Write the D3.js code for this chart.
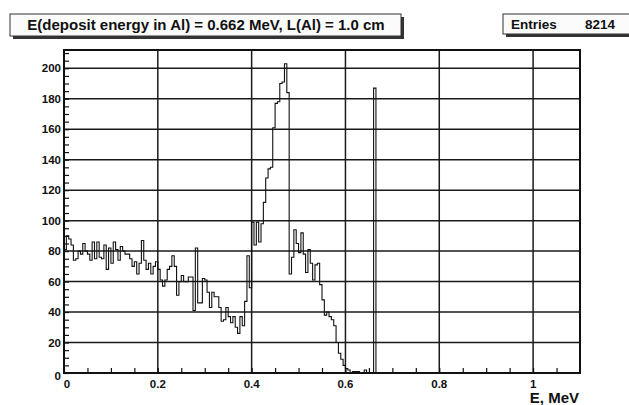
<!DOCTYPE html>
<html lang="en">
<head>
    <meta charset="UTF-8">
    <title>E(deposit energy in Al)</title>
    <script src="https://d3js.org/d3.v7.min.js"></script>
    <style>
        body { margin: 0; background: #fff; }
        text { font-family: "Liberation Sans", Arial, sans-serif; font-weight: bold; fill: #111; }
    </style>
</head>
<body>

<script>
    // Histogram data (bin width 0.005 MeV, starting at 0)
    var binWidth = 0.005;
    var counts = [
        81, 90, 88, 84, 74, 75, 80, 78, 85, 80,
        78, 74, 86, 75, 86, 76, 75, 84, 68, 82,
        72, 86, 81, 74, 83, 80, 78, 78, 75, 70,
        73, 65, 72, 87, 74, 68, 72, 65, 70, 73,
        68, 61, 57, 61, 68, 70, 77, 70, 51, 60,
        64, 60, 60, 63, 63, 41, 82, 46, 46, 62,
        61, 53, 43, 53, 50, 50, 43, 34, 35, 43,
        37, 33, 37, 30, 26, 37, 31, 47, 77, 56,
        99, 84, 99, 86, 98, 112, 128, 134, 135, 161,
        177, 178, 190, 191, 203, 184, 65, 76, 94, 85,
        79, 92, 78, 66, 81, 72, 61, 71, 72, 58,
        48, 38, 40, 37, 35, 31, 20, 13, 9, 5,
        3, 2, 0, 1, 1, 1, 0, 0, 2, 0,
        0, 0, 187, 0
    ];
    var xTicks = [0, 0.2, 0.4, 0.6, 0.8, 1];
    var yTicks = [0, 20, 40, 60, 80, 100, 120, 140, 160, 180, 200];
    var title = "E(deposit energy in Al) = 0.662 MeV, L(Al) = 1.0 cm";
    var entries = 8214;

    var width = 629, height = 405;
    var margin = { left: 64, right: 49, top: 50, bottom: 32 };

    var svg = d3.select("body").append("svg")
        .attr("width", width)
        .attr("height", height);

    var x = d3.scaleLinear().domain([0, 1.1]).range([margin.left, width - margin.right]);
    var y = d3.scaleLinear().domain([0, 212]).range([height - margin.bottom, margin.top]);

    // grid
    svg.append("g").selectAll("line")
        .data(yTicks.slice(1))
        .enter().append("line")
        .attr("x1", x(0)).attr("x2", x(1.1))
        .attr("y1", d => y(d)).attr("y2", d => y(d))
        .attr("stroke", "#1a1a1a").attr("stroke-width", 1.5);
    svg.append("g").selectAll("line")
        .data(xTicks.slice(1))
        .enter().append("line")
        .attr("x1", d => x(d)).attr("x2", d => x(d))
        .attr("y1", y(0)).attr("y2", y(212))
        .attr("stroke", "#1a1a1a").attr("stroke-width", 1.5);

    // histogram outline (step)
    var pts = [[0, 0]];
    counts.forEach(function (c, i) {
        pts.push([i * binWidth, c]);
        pts.push([(i + 1) * binWidth, c]);
    });
    pts.push([counts.length * binWidth, 0]);
    pts.push([1.1, 0]);
    svg.append("path")
        .attr("d", d3.line().x(d => x(d[0])).y(d => y(d[1]))(pts))
        .attr("fill", "none")
        .attr("stroke", "#111")
        .attr("stroke-width", 1.1);

    // axes: ticks inside the frame, ROOT style
    var yAxis = svg.append("g")
        .attr("transform", "translate(" + x(0) + ",0)")
        .call(d3.axisRight(y).ticks(42).tickSize(5).tickFormat(""));
    yAxis.select(".domain").remove();
    yAxis.selectAll("line").attr("stroke", "#111").attr("stroke-width", 1.2);

    var xAxis = svg.append("g")
        .attr("transform", "translate(0," + y(0) + ")")
        .call(d3.axisTop(x).tickValues(d3.range(0, 1.1, 0.05)).tickSize(5).tickFormat(""));
    xAxis.select(".domain").remove();
    xAxis.selectAll("line").attr("stroke", "#111").attr("stroke-width", 1.2);

    // frame
    svg.append("rect")
        .attr("x", x(0)).attr("y", y(212))
        .attr("width", x(1.1) - x(0)).attr("height", y(0) - y(212))
        .attr("fill", "none").attr("stroke", "#111").attr("stroke-width", 2);

    // tick labels
    svg.append("g").selectAll("text")
        .data(yTicks)
        .enter().append("text")
        .attr("x", x(0) - 3)
        .attr("y", d => y(d) + (d === 0 ? 3 : 0))
        .attr("dy", "0.35em")
        .attr("text-anchor", "end")
        .attr("font-size", 11.5)
        .text(d => d);
    svg.append("g").selectAll("text")
        .data(xTicks)
        .enter().append("text")
        .attr("x", d => x(d) + (d === 0 ? 3 : 0))
        .attr("y", y(0) + 11)
        .attr("dy", "0.35em")
        .attr("text-anchor", "middle")
        .attr("font-size", 11.5)
        .text(d => d);

    // axis title
    svg.append("text")
        .attr("x", x(1.1) - 1).attr("y", 403)
        .attr("text-anchor", "end")
        .attr("font-size", 15)
        .text("E, MeV");

    // title box with shadow
    svg.append("rect").attr("x", 13).attr("y", 17).attr("width", 391).attr("height", 22).attr("fill", "#333");
    svg.append("rect").attr("x", 10).attr("y", 14).attr("width", 391).attr("height", 22)
        .attr("fill", "#fbfbfb").attr("stroke", "#333").attr("stroke-width", 1);
    svg.append("text")
        .attr("x", 206).attr("y", 25).attr("dy", "0.35em")
        .attr("text-anchor", "middle").attr("font-size", 15)
        .text(title);

    // stats box
    svg.append("rect").attr("x", 506).attr("y", 17).attr("width", 130).attr("height", 20).attr("fill", "#333");
    svg.append("rect").attr("x", 503).attr("y", 14).attr("width", 130).attr("height", 20)
        .attr("fill", "#fbfbfb").attr("stroke", "#333").attr("stroke-width", 1);
    svg.append("text")
        .attr("x", 511).attr("y", 24).attr("dy", "0.35em")
        .attr("font-size", 13.5).text("Entries");
    svg.append("text")
        .attr("x", 615).attr("y", 24).attr("dy", "0.35em")
        .attr("text-anchor", "end").attr("font-size", 13.5).text(entries);
</script>

</body>
</html>
